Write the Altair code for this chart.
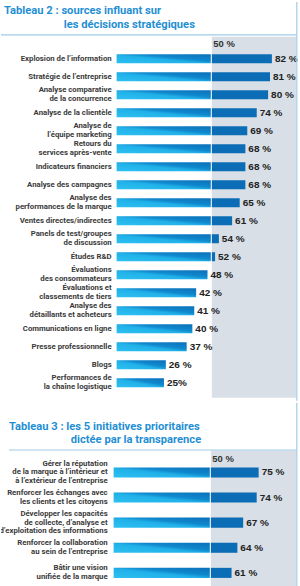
import altair as alt
import pandas as pd

# ---------------- data ----------------
title_top = ["Tableau 2 : sources influant sur", "les décisions stratégiques"]
labels_top = [
    "Explosion de l’information",
    "Stratégie de l’entreprise",
    "Analyse comparative\nde la concurrence",
    "Analyse de la clientèle",
    "Analyse de\nl’équipe marketing",
    "Retours du\nservices après-vente",
    "Indicateurs financiers",
    "Analyse des campagnes",
    "Analyse des\nperformances de la marque",
    "Ventes directes/indirectes",
    "Panels de test/groupes\nde discussion",
    "Études R&D",
    "Évaluations\ndes consommateurs",
    "Évaluations et\nclassements de tiers",
    "Analyse des\ndétaillants et acheteurs",
    "Communications en ligne",
    "Presse professionnelle",
    "Blogs",
    "Performances de\nla chaîne logistique",
]
values_top = [82, 81, 80, 74, 69, 68, 68, 68, 65, 61, 54, 52, 48, 42, 41, 40, 37, 26, 25]
texts_top = ["82 %", "81 %", "80 %", "74 %", "69 %", "68 %", "68 %", "68 %", "65 %",
             "61 %", "54 %", "52 %", "48 %", "42 %", "41 %", "40 %", "37 %", "26 %", "25%"]

title_bottom = ["Tableau 3 : les 5 initiatives prioritaires", "dictée par la transparence"]
labels_bottom = [
    "Gérer la réputation\nde la marque à l’intérieur et\nà l’extérieur de l’entreprise",
    "Renforcer les échanges avec\nles clients et les citoyens",
    "Développer les capacités\nde collecte, d’analyse et\nd’exploitation des informations",
    "Renforcer la collaboration\nau sein de l’entreprise",
    "Bâtir une vision\nunifiée de la marque",
]
values_bottom = [75, 74, 67, 64, 61]
texts_bottom = ["75 %", "74 %", "67 %", "64 %", "61 %"]

reference_value = 50
reference_text = "50 %"

# ---------------- style ----------------
TITLE_BLUE = "#1f8fd4"
LINE_BLUE = "#9fcbea"
PANEL = "#d8dfe6"
DARK_BAR = "#0b6db6"
LABEL_FONT = "Roboto"
TITLE_FONT = "Roboto"
VALUE_FONT = "Liberation Sans"
LINE_H = 8.8

gradient = alt.Gradient(
    gradient="linear",
    stops=[
        alt.GradientStop(color="#2dc0f1", offset=0),
        alt.GradientStop(color="#21b1e9", offset=0.45),
        alt.GradientStop(color="#1088cd", offset=0.62),
        alt.GradientStop(color="#0b70b9", offset=1),
    ],
    x1=0, y1=1, x2=1, y2=0,
)


def section(labels, values, texts, titles, g):
    df = pd.DataFrame({"label": labels, "value": values, "text": texts})
    df["zero"] = 0
    df["ref"] = reference_value
    df["low"] = [min(v, reference_value) for v in values]
    df["high"] = [max(v, reference_value) for v in values]
    df["nlines"] = [s.count("\n") + 1 for s in labels]

    xs = alt.Scale(domain=[0, 100], range=g["xrange"])
    ys = alt.Scale(range=g["yrange"], paddingInner=g["pi"], paddingOuter=g["po"])
    y = alt.Y("label:N", sort=None, scale=ys, axis=None)
    x = lambda f: alt.X(f, scale=xs, axis=None)

    base = alt.Chart(df)
    one = alt.Chart(pd.DataFrame({"t": [reference_text], "v": [reference_value]}))

    panel = one.mark_rect(color=PANEL).encode(
        x=x("v:Q"),
        x2=alt.value(296),
        y=alt.value(g["panel"][0]),
        y2=alt.value(g["panel"][1]),
    )
    bars_low = base.mark_bar(color=gradient).encode(x=x("zero:Q"), x2="low:Q", y=y)
    bars_high = base.mark_bar(color=DARK_BAR).encode(x=x("ref:Q"), x2="high:Q", y=y)
    gap = one.mark_rule(color="white", strokeWidth=1).encode(
        x=x("v:Q"),
        y=alt.value(g["panel"][0]),
        y2=alt.value(g["panel"][1]),
    )
    ref_text = one.mark_text(
        align="left", baseline="middle", dx=2, font=VALUE_FONT, fontSize=9.5,
        fontWeight="bold", color="#333333",
    ).encode(x=x("v:Q"), y=alt.value(g["ref_y"]), text="t:N")

    label_layers = []
    for n in sorted(set(df["nlines"])):
        label_layers.append(
            base.transform_filter(f"datum.nlines == {n}").mark_text(
                align="right", baseline="middle", lineBreak="\n", font=LABEL_FONT,
                fontSize=7.8, fontWeight="bold", color="#3a3a3a", lineHeight=LINE_H,
                clip=True, dy=-(n - 1) * LINE_H / 2,
            ).encode(x=alt.value(g["label_x"]), y=y, text="label:N")
        )
    value_text = base.mark_text(
        align="left", baseline="middle", dx=3, font=VALUE_FONT, fontSize=10,
        fontWeight="bold", color="#222222",
    ).encode(x=x("value:Q"), y=y, text="text:N")

    title_layers = []
    for i, t in enumerate(titles):
        title_layers.append(
            alt.Chart(pd.DataFrame({"t": [t]})).mark_text(
                align="left", baseline="alphabetic", font=TITLE_FONT, fontSize=11.2,
                fontWeight="bold", color=TITLE_BLUE,
            ).encode(
                x=alt.value(g["title_x"][i]), y=alt.value(g["title_y"][i]), text="t:N"
            )
        )
    hline = one.mark_rule(color=LINE_BLUE, strokeWidth=1.2).encode(
        x=alt.value(g["hline_x"]), x2=alt.value(297), y=alt.value(g["hline_y"])
    )
    vline = one.mark_rule(color=LINE_BLUE, strokeWidth=1.2).encode(
        x=alt.value(296.8), y=alt.value(0), y2=alt.value(g["h"])
    )
    return alt.layer(
        panel, bars_low, bars_high, gap, ref_text, *label_layers, value_text,
        *title_layers, hline, vline,
    ).properties(width=g["w"], height=g["h"])


g_top = dict(
    w=300, h=400, xrange=[116, 306], yrange=[48, 391], pi=0.5, po=0.25,
    panel=[35, 397], ref_y=42, label_x=111, title_x=[3, 63], title_y=[12.5, 26],
    hline_x=0, hline_y=33,
)
g_bottom = dict(
    w=300, h=186, xrange=[113, 307], yrange=[57.4, 183.4], pi=0.6, po=0.3,
    panel=[48, 186], ref_y=57, label_x=107, title_x=[8, 70], title_y=[27.5, 40.5],
    hline_x=8, hline_y=47.5,
)

top = section(labels_top, values_top, texts_top, title_top, g_top)
bottom = section(labels_bottom, values_bottom, texts_bottom, title_bottom, g_bottom)

chart = alt.vconcat(top, bottom, spacing=0).properties(padding=0).configure_view(
    stroke=None
)
chart.save("out.html", embed_options={"renderer": "svg", "actions": False})
